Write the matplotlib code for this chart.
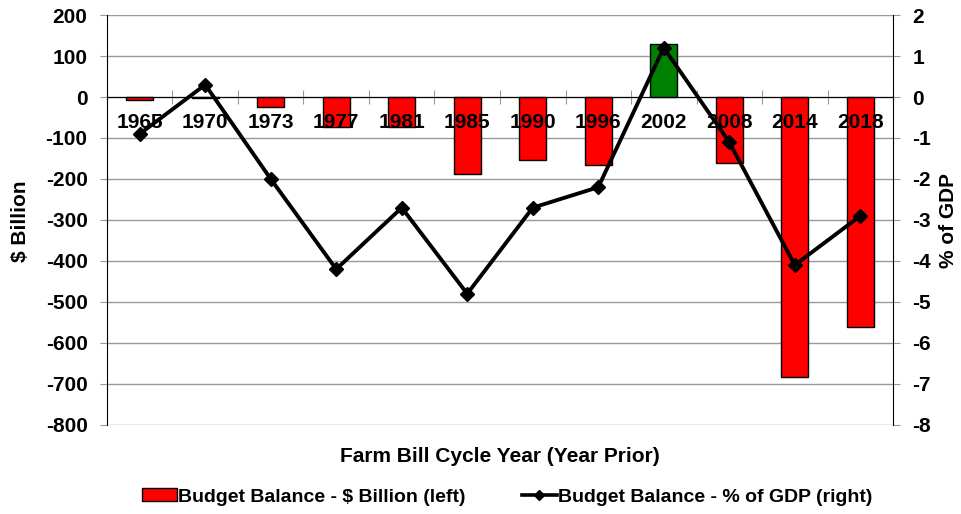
import matplotlib.pyplot as plt
import numpy as np
from matplotlib.lines import Line2D
from matplotlib.patches import Patch

plt.rcParams['font.family'] = ['Liberation Sans', 'DejaVu Sans']
plt.rcParams['font.weight'] = 'bold'
plt.rcParams['axes.unicode_minus'] = False

years = ['1965', '1970', '1973', '1977', '1981', '1985',
         '1990', '1996', '2002', '2008', '2014', '2018']
balance_bn = [-7, -2, -25, -72, -72, -188, -154, -166, 129, -161, -683, -561]
balance_gdp = [-0.9, 0.3, -2.0, -4.2, -2.7, -4.8, -2.7, -2.2, 1.2, -1.1, -4.1, -2.9]

x = np.arange(len(years))
colors = ['green' if v > 0 else 'red' for v in balance_bn]

fig = plt.figure(figsize=(9.62, 5.14), dpi=100)
ax = fig.add_axes([0.1112, 0.1732, 0.8171, 0.7976])

ax.bar(x, balance_bn, width=0.41, color=colors, edgecolor='black', linewidth=1, zorder=3)
ax.set_xlim(-0.5, len(years) - 0.5)
ax.set_ylim(-800, 200)
ax.set_yticks(np.arange(-800, 201, 100))
ax.yaxis.grid(True, color='#999999', linewidth=1)
ax.set_axisbelow(True)

# category axis crosses at zero, labels drawn over the bars
ax.spines['bottom'].set_position(('data', 0))
ax.spines['bottom'].set_color('black')
ax.spines['bottom'].set_zorder(4)
ax.spines['top'].set_visible(False)
ax.spines['right'].set_visible(False)
ax.set_xticks(np.arange(-0.5, len(years)))
ax.set_xticklabels([])
ax.tick_params(axis='x', direction='inout', length=10, color='#999999')
ax.tick_params(axis='y', direction='out', length=5, color='#999999', pad=9, labelsize=15)
for xi, yr in zip(x, years):
    ax.text(xi, -61, yr, ha='center', va='center', fontsize=15, fontweight='bold', zorder=6)

ax2 = ax.twinx()
ax2.plot(x, balance_gdp, color='black', linewidth=2.8, marker='D', markersize=7.5, zorder=5)
ax2.set_ylim(-8, 2)
ax2.set_yticks(np.arange(-8, 3, 1))
for s in ['top', 'bottom', 'left']:
    ax2.spines[s].set_visible(False)
ax2.tick_params(axis='y', direction='out', length=5, color='#999999', pad=9, labelsize=15)

fig.text(20 / 962, 1 - 221 / 514, '$ Billion', rotation=90, ha='center', va='center',
         fontsize=15, fontweight='bold')
fig.text(949 / 962, 1 - 221 / 514, '% of GDP', rotation=90, ha='center', va='center',
         fontsize=15, fontweight='bold')
fig.text(500 / 962, 1 - 457 / 514, 'Farm Bill Cycle Year (Year Prior)', ha='center', va='center',
         fontsize=15, fontweight='bold')

handles = [Patch(facecolor='red', edgecolor='black', linewidth=1),
           Line2D([0], [0], color='black', linewidth=2.6, marker='D', markersize=5)]
labels = ['Budget Balance - $ Billion (left)', 'Budget Balance - % of GDP (right)']
fig.legend(handles, labels, loc='center', bbox_to_anchor=(507 / 962, 1 - 497 / 514), ncol=2,
           frameon=False, fontsize=14, handlelength=1.8, handleheight=0.6,
           handletextpad=0.05, columnspacing=2.9)

fig.savefig('out.png', dpi=100)
